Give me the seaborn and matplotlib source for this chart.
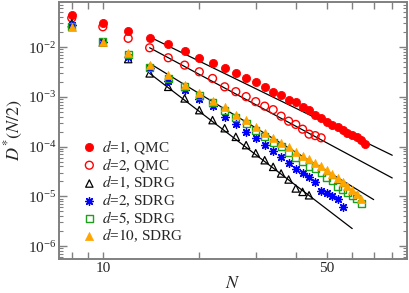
import numpy as np
import pandas as pd
import seaborn as sns
import matplotlib
matplotlib.use("Agg")
import matplotlib.pyplot as plt
from matplotlib.ticker import FixedLocator, NullFormatter, LogLocator, LogFormatterSciNotation

# ---- data ----
N_qmc1 = [8, 10, 12, 14, 16, 18, 20, 22, 24, 26, 28, 30, 32, 34, 36, 38, 40,
          42, 44, 46, 48, 50, 52, 54, 56, 58, 60, 62, 64, 66]
D_qmc1 = [0.0441, 0.0300, 0.0213, 0.0154, 0.0113, 0.00831, 0.00610, 0.00470,
          0.00373, 0.00304, 0.00241, 0.00200, 0.00157, 0.00126, 0.00108,
          0.000859, 0.000782, 0.000629, 0.000540, 0.000428, 0.000367,
          0.000314, 0.000270, 0.000249, 0.000214, 0.000184, 0.000170,
          0.000157, 0.000135, 0.000115]

N_qmc2 = [8, 10, 12, 14, 16, 18, 20, 22, 24, 26, 28, 30, 32, 34, 36, 38, 40,
          42, 44, 46, 48]
D_qmc2 = [0.0384, 0.0256, 0.0150, 0.00968, 0.00610, 0.00434, 0.00319,
          0.00234, 0.00159, 0.00127, 0.00101, 0.000800, 0.000650, 0.000552,
          0.000409, 0.000324, 0.000279, 0.000224, 0.000178, 0.000166,
          0.000150]

N_sdrg1 = [8, 10, 12, 14, 16, 18, 20, 22, 24, 26, 28, 30, 32, 34, 36, 38, 40,
           42, 44]
D_sdrg1 = [0.0300, 0.0123, 0.00574, 0.00296, 0.00159, 0.000929, 0.000540,
           0.000340, 0.000234, 0.000157, 0.000107, 7.36e-5, 5.32e-5, 3.91e-5,
           2.88e-5, 2.18e-5, 1.44e-5, 1.23e-5, 1.05e-5]

N_sdrg2 = [8, 10, 12, 14, 16, 18, 20, 22, 24, 26, 28, 30, 32, 34, 36, 38, 40,
           42, 44, 46, 48, 50, 52, 54, 56]
D_sdrg2 = [0.0280, 0.0125, 0.00640, 0.00373, 0.00207, 0.00137, 0.000900,
           0.000650, 0.000396, 0.000283, 0.000198, 0.000152, 0.000107,
           8.19e-5, 6.21e-5, 4.63e-5, 3.62e-5, 2.92e-5, 2.42e-5, 1.90e-5,
           1.29e-5, 1.17e-5, 1.02e-5, 9.03e-6, 6.12e-6]

N_sdrg5 = [8, 10, 12, 14, 16, 18, 20, 22, 24, 26, 28, 30, 32, 34, 36, 38, 40,
           42, 44, 46, 48, 50, 52, 54, 56, 58, 60, 62, 64]
D_sdrg5 = [0.0260, 0.0128, 0.00700, 0.00396, 0.00234, 0.00159, 0.00105,
           0.000764, 0.000540, 0.000381, 0.000289, 0.000214, 0.000157,
           0.000123, 9.86e-5, 7.71e-5, 5.98e-5, 4.92e-5, 4.03e-5, 3.59e-5,
           2.96e-5, 2.39e-5, 2.04e-5, 1.60e-5, 1.36e-5, 1.18e-5, 1.05e-5,
           8.95e-6, 7.16e-6]

N_sdrg10 = [8, 10, 12, 14, 16, 18, 20, 22, 24, 26, 28, 30, 32, 34, 36, 38, 40,
            42, 44, 46, 48, 50, 52, 54, 56, 58, 60, 62, 64]
D_sdrg10 = [0.0256, 0.0128, 0.00747, 0.00434, 0.00273, 0.00177, 0.00117,
            0.000818, 0.000630, 0.000428, 0.000340, 0.000249, 0.000186,
            0.000146, 0.000119, 9.72e-5, 7.71e-5, 6.56e-5, 5.57e-5, 4.74e-5,
            4.03e-5, 3.35e-5, 2.79e-5, 2.31e-5, 1.92e-5, 1.60e-5, 1.33e-5,
            1.10e-5, 8.75e-6]

# power-law fit lines (end points)
fit_N = [[14, 80], [14, 80], [14, 70], [14, 60]]
fit_D = [[0.0160, 6.7e-5], [0.0097, 2.34e-5], [0.0047, 8.6e-6], [0.00296, 2.25e-6]]

labels = [r"$d$=$1$, QMC", r"$d$=$2$, QMC", r"$d$=$1$, SDRG",
          r"$d$=$2$, SDRG", r"$d$=$5$, SDRG", r"$d$=$10$, SDRG"]

# ---- plot ----
sns.set_style("ticks")
plt.rcParams["font.family"] = ["Liberation Serif", "DejaVu Serif"]
plt.rcParams["mathtext.fontset"] = "stix"

fig = plt.figure(figsize=(4.09, 2.93), dpi=100)
ax = fig.add_axes([0.1443, 0.116, 0.851, 0.877])

for xs, ys in zip(fit_N, fit_D):
    sns.lineplot(x=xs, y=ys, ax=ax, color="black", lw=0.9, estimator=None,
                 sort=False, legend=False, zorder=1)

series = [
    (N_qmc1, D_qmc1, dict(marker="o", color="red", edgecolor="red", s=34, linewidth=0.6)),
    (N_qmc2, D_qmc2, dict(marker="o", facecolor="none", edgecolor="red", s=32, linewidth=1.0)),
    (N_sdrg1, D_sdrg1, dict(marker="^", facecolor="none", edgecolor="black", s=28, linewidth=0.9)),
    (N_sdrg2, D_sdrg2, dict(marker=(8, 2, 0), color="blue", s=30, linewidth=1.0)),
    (N_sdrg5, D_sdrg5, dict(marker="s", facecolor="none", edgecolor="#1ea01e", s=24, linewidth=1.0)),
    (N_sdrg10, D_sdrg10, dict(marker="^", color="orange", edgecolor="orange", s=34, linewidth=0.5)),
]
for (xs, ys, kw), lab in zip(series, labels):
    sns.scatterplot(x=xs, y=ys, ax=ax, label=lab, zorder=3, **kw)

ax.set_xscale("log")
ax.set_yscale("log")
ax.set_xlim(7.3, 89)
ax.set_ylim(5.5e-7, 0.0804)

ax.xaxis.set_major_locator(FixedLocator([10, 50]))
ax.xaxis.set_minor_locator(FixedLocator([8, 9, 20, 30, 40, 60, 70, 80]))
ax.xaxis.set_major_formatter(plt.FuncFormatter(lambda v, p: f"{v:g}"))
ax.xaxis.set_minor_formatter(NullFormatter())
ax.yaxis.set_major_locator(LogLocator(base=10))
ax.yaxis.set_minor_locator(LogLocator(base=10, subs=np.arange(2, 10)))
ax.yaxis.set_major_formatter(LogFormatterSciNotation())

grey = "#808080"
for sp in ax.spines.values():
    sp.set_color(grey)
    sp.set_linewidth(1.4)
ax.tick_params(which="both", direction="in", top=True, right=True, color=grey,
               labelsize=11)
ax.tick_params(axis="x", which="both", length=5, width=1.0, pad=2)
ax.tick_params(axis="y", which="major", length=6, width=1.0, pad=2)
ax.tick_params(axis="y", which="minor", length=3, width=0.8)

ax.set_xlabel(r"$N$", fontsize=13, labelpad=0)
ax.set_ylabel(r"$D^{*}(N/2)$", fontsize=13, labelpad=2)

ax.legend(loc="lower left", bbox_to_anchor=(0.03, 0.01), frameon=False,
          fontsize=11, handletextpad=0.35, labelspacing=0.0, borderpad=0.3,
          handlelength=1.0)

fig.savefig("out.png", dpi=100)
